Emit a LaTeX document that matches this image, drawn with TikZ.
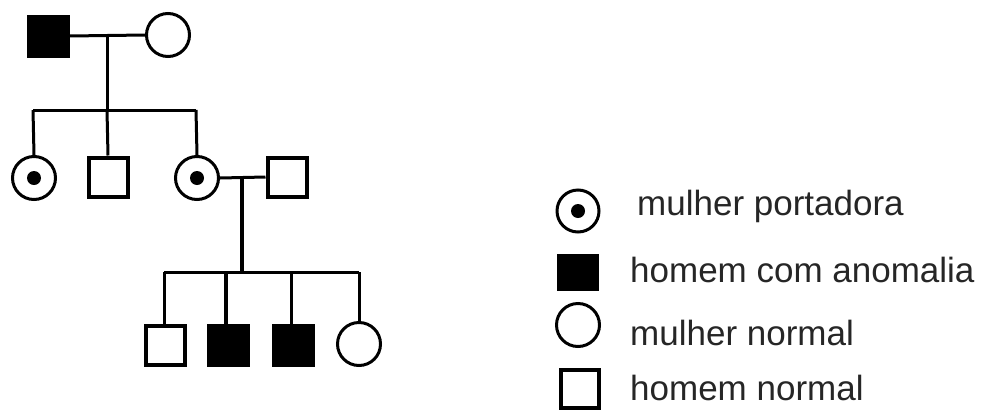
\documentclass[tikz,border=0pt]{standalone}
\usepackage{fontspec}
\setmainfont{Liberation Sans}
\begin{document}
\begin{tikzpicture}[x=1pt,y=-1pt,
  man/.style={draw=black,line width=4pt,rectangle,minimum size=39pt,inner sep=0pt,fill=white},
  sickman/.style={man,fill=black},
  woman/.style={draw=black,line width=3pt,circle,minimum size=43pt,inner sep=0pt,fill=white},
  carrier/.style={woman,path picture={\fill[black] (path picture bounding box.center) circle (7pt);}},
  link/.style={line width=3pt,draw=black},
  thicklink/.style={line width=4pt,draw=black},
  lab/.style={anchor=base west,inner sep=0pt,font=\fontsize{35}{40}\selectfont,text=black!85}
]
\useasboundingbox (0,0) rectangle (984,410);
% generation I
\node[sickman] (I1) at (48,36) {};
\node[woman] (I2) at (168,35) {};
\coordinate (m1) at (107,36);
\coordinate (s1) at (107,110);
\coordinate (sl) at (33,110);
\coordinate (sr) at (196,110);
% generation II
\node[carrier] (II1) at (34,178) {};
\node[man] (II2) at (108,177) {};
\node[carrier] (II3) at (197,178) {};
\node[man] (II4) at (287,177) {};
\coordinate (m2) at (242,177);
\coordinate (s2) at (242,272);
\coordinate (tl) at (164,272);
\coordinate (tr) at (359,272);
% generation III
\node[man] (III1) at (165,345) {};
\node[sickman] (III2) at (228,345) {};
\node[sickman] (III3) at (293,345) {};
\node[woman] (III4) at (359,344) {};
% connectors
\draw[link] (I1.east) -- (I2.west);
\draw[link] (m1) -- (s1);
\draw[link] (sl) -- (sr);
\draw[link] (sl) -- (II1.north);
\draw[link] (s1) -- (II2.north);
\draw[link] (sr) -- (II3.north);
\draw[link] (II3.east) -- (II4.west);
\draw[thicklink] (m2) -- (s2);
\draw[link] (tl) -- (tr);
\draw[link] (tl) -- (tl |- III1.north);
\draw[thicklink] (III2.north -| 226,0) -- (226,272);
\draw[link] (291,272) -- (291,0 |- III3.north);
\draw[link] (tr) -- (III4.north);
% legend
\node[carrier,minimum size=42pt] (L1) at (578,211) {};
\node[sickman,draw=none,minimum width=42pt,minimum height=37pt] (L2) at (578,272) {};
\node[woman,minimum size=43pt] (L3) at (578,325) {};
\node[man,minimum size=38pt] (L4) at (580,389) {};
\node[lab] (T1) at (637,215) {mulher portadora};
\node[lab] (T2) at (630,282) {homem com anomalia};
\node[lab] (T3) at (630,345) {mulher normal};
\node[lab] (T4) at (630,400) {homem normal};
\end{tikzpicture}
\end{document}
